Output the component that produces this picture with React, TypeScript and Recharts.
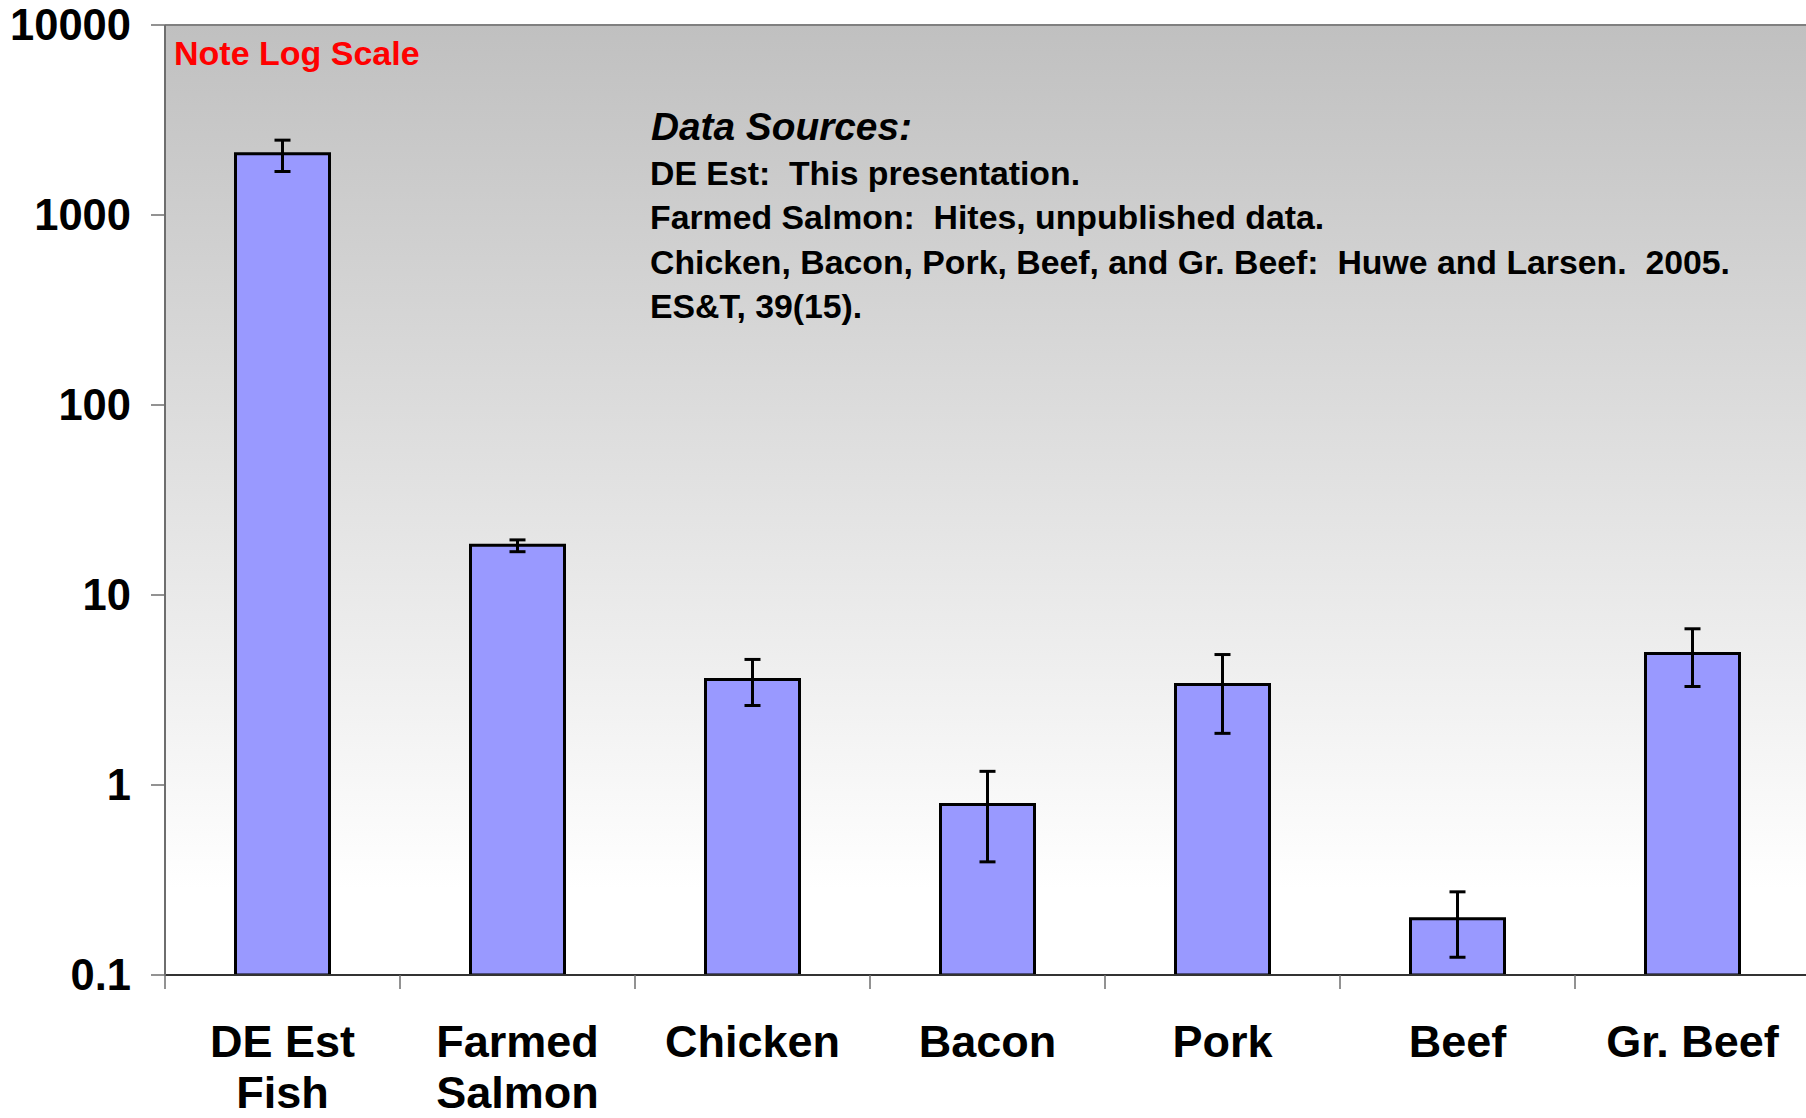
import { BarChart, Bar, XAxis, YAxis, CartesianGrid, ErrorBar, ReferenceLine } from 'recharts'

// ─── Data ─────────────────────────────────────────────────────────────────────

const categories = ['DE Est\nFish', 'Farmed\nSalmon', 'Chicken', 'Bacon', 'Pork', 'Beef', 'Gr. Beef']
const values     = [2100, 18.3, 3.59, 0.79, 3.38, 0.198, 4.92]
const errLow     = [1694, 16.9, 2.62, 0.394, 1.87, 0.124, 3.3]
const errHigh    = [2477, 19.5, 4.58, 1.18, 4.86, 0.274, 6.64]
const yTicks     = [0.1, 1, 10, 100, 1000, 10000]

const noteText = 'Note Log Scale'
const sourcesTitle = 'Data Sources:'
const sourcesLines = [
  'DE Est:  This presentation.',
  'Farmed Salmon:  Hites, unpublished data.',
  'Chicken, Bacon, Pork, Beef, and Gr. Beef:  Huwe and Larsen.  2005.',
  'ES&T, 39(15).',
]

const data = categories.map((name, i) => ({
  name,
  value: values[i],
  err: [values[i] - errLow[i], errHigh[i] - values[i]],
}))

// ─── Styles ───────────────────────────────────────────────────────────────────

const FONT = '"Liberation Sans", Arial, Helvetica, sans-serif'
const AXIS_COLOR = '#6e6e6e'

function CategoryTick(props: any) {
  const { x, y, payload } = props
  const half = payload?.offset ?? 0
  const lines = String(payload.value).split('\n')
  return (
    <g>
      <line x1={x - half} x2={x - half} y1={y - 14} y2={y} stroke={AXIS_COLOR} strokeWidth={1.5} />
      <text
        x={x}
        y={y + 68}
        textAnchor="middle"
        fontFamily={FONT}
        fontWeight="bold"
        fontSize={45}
        fill="#000"
      >
        {lines.map((l, i) => (
          <tspan key={i} x={x} dy={i === 0 ? 0 : 51}>{l}</tspan>
        ))}
      </text>
    </g>
  )
}

export default function App() {
  return (
    <div style={{ position: 'absolute', left: 0, top: 0, width: 1806, height: 1118, overflow: 'hidden', background: '#fff' }}>
      <svg width={0} height={0} style={{ position: 'absolute' }}>
        <defs>
          <linearGradient id="plotBg" x1="0" y1="0" x2="0" y2="1">
            <stop offset="0" stopColor="#c0c0c0" />
            <stop offset="0.91" stopColor="#ffffff" />
            <stop offset="1" stopColor="#ffffff" />
          </linearGradient>
        </defs>
      </svg>
      <BarChart
        width={1810}
        height={1118}
        data={data}
        margin={{ top: 25, right: 0, bottom: 0, left: 0 }}
        barCategoryGap="30%"
      >
        <CartesianGrid fill="url(#plotBg)" horizontal={false} vertical={false} />
        <XAxis
          dataKey="name"
          height={143}
          interval={0}
          tickLine={false}
          tickSize={14}
          tickMargin={0}
          axisLine={{ stroke: '#333', strokeWidth: 2 }}
          tick={<CategoryTick />}
        />
        <YAxis
          scale="log"
          domain={[0.1, 10000]}
          ticks={yTicks}
          allowDataOverflow
          width={165}
          tickSize={14}
          tickMargin={20}
          axisLine={{ stroke: AXIS_COLOR, strokeWidth: 2 }}
          tickLine={{ stroke: AXIS_COLOR, strokeWidth: 1.5 }}
          tick={{ fill: '#000', fontSize: 43.5, fontWeight: 'bold', fontFamily: FONT }}
        />
        <ReferenceLine y={10000} stroke="#808080" strokeWidth={2} />
        <Bar dataKey="value" fill="#9999ff" stroke="#000" strokeWidth={3} isAnimationActive={false}>
          <ErrorBar dataKey="err" width={8} stroke="#000" strokeWidth={3} isAnimationActive={false} />
        </Bar>
      </BarChart>
      <svg
        width={1806}
        height={1118}
        style={{ position: 'absolute', left: 0, top: 0, pointerEvents: 'none' }}
      >
        <text x={174} y={65} fontFamily={FONT} fontWeight="bold" fontSize={34} fill="#ff0000">
          {noteText}
        </text>
        <text x={651} y={140} fontFamily={FONT} fontWeight="bold" fontStyle="italic" fontSize={38.8} fill="#000">
          {sourcesTitle}
        </text>
        {sourcesLines.map((l, i) => (
          <text
            key={i}
            x={650}
            y={185 + i * 44.3}
            fontFamily={FONT}
            fontWeight="bold"
            fontSize={33.8}
            fill="#000"
            style={{ whiteSpace: 'pre' }}
          >
            {l}
          </text>
        ))}
      </svg>
    </div>
  )
}
